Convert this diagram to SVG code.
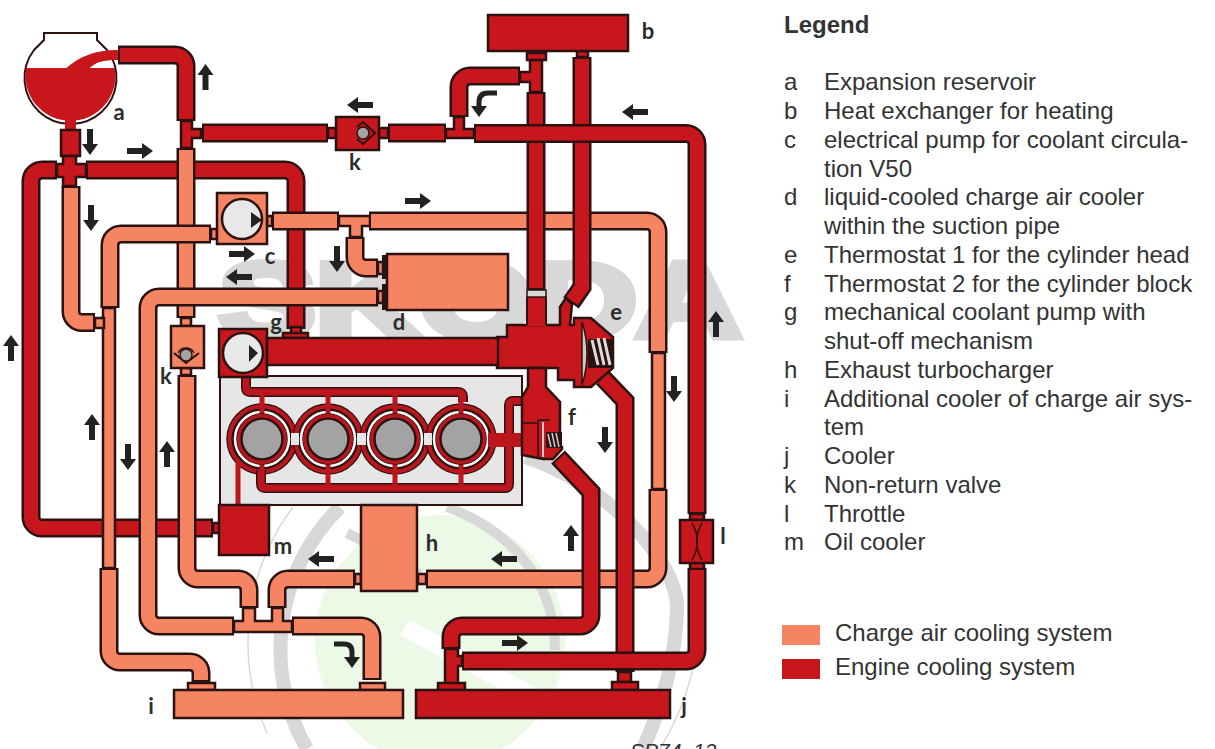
<svg xmlns="http://www.w3.org/2000/svg" width="1215" height="749" viewBox="0 0 1215 749">
<style>
.o{fill:none;stroke:#2b1210;stroke-width:19}
.r{fill:none;stroke:#c8161d;stroke-width:14}
.s{fill:none;stroke:#f58462;stroke-width:14}
.R{fill:#c8161d;stroke:#2b1210;stroke-width:2.5}
.S{fill:#f58462;stroke:#2b1210;stroke-width:2.5}
.W{fill:#e8e8e8;stroke:#2b1210;stroke-width:2.5}
.G{fill:#a3a3a3;stroke:#2b1210;stroke-width:1.5}
.t{fill:#222;stroke:none}
.a{fill:none;stroke:#222;stroke-width:5}
.ah{fill:#222}
.l{font-family:"Lato","Liberation Sans",sans-serif;font-weight:700;font-size:22px;fill:#2b2b2b;text-anchor:middle}
.x{font-family:"Liberation Sans",Arial,sans-serif;font-size:24px;fill:#333}
.m1{fill:none;stroke:#2b1210;stroke-width:10}
.m2{fill:none;stroke:#b9161d;stroke-width:7}
.wm{fill:none;stroke:#d8d8d8}
</style>
<defs>
<g id="au"><path class="ah" d="M-8 -15 L0 -26 L8 -15 Z"/><rect class="ah" x="-3" y="-16" width="6" height="16"/></g>
<g id="ring"><circle r="32.5" fill="none" stroke="#2b1210" stroke-width="6.5"/><circle r="32.5" fill="none" stroke="#b9161d" stroke-width="4"/></g>
<g id="disc"><circle r="29" fill="#fff" stroke="#2b1210" stroke-width="1.5"/></g>
<g id="cyl"><circle r="22.5" fill="#a3a3a3" stroke="#2b1210" stroke-width="6.5"/><circle r="23.3" fill="none" stroke="#b9161d" stroke-width="3.4"/></g>
</defs>
<rect width="1215" height="749" fill="#fff"/>
<g id="watermark">
<circle cx="440" cy="640" r="125" fill="#ecf9e6"/>
<path class="wm" stroke-width="1.5" d="M293 507 A226 226 0 0 0 267 733"/>
<path class="wm" stroke-width="14" d="M340 507 A200 200 0 0 0 307 749"/>
<path class="wm" stroke-width="14" d="M525 457 C600 480 680 560 677 610 C676 660 660 710 643 749"/>
<path class="wm" stroke-width="1.5" d="M699 580 C705 640 690 700 660 749"/>
<path class="wm" stroke-width="10" d="M447 507 C510 530 555 580 555 650"/>
<path class="wm" stroke-width="10" d="M347 533 C370 545 400 560 420 575"/>
<path fill="#fff" d="M410 620 L540 690 L530 705 L400 635 Z"/>
<text x="219" y="337" font-family="Liberation Sans, Arial, sans-serif" font-weight="700" font-size="106" fill="#d8d8d8" stroke="#d8d8d8" stroke-width="8" textLength="522" lengthAdjust="spacingAndGlyphs">SKODA</text>
</g>
<g id="engine">
<rect x="220" y="376" width="302" height="129" fill="#e6e6e6" stroke="#2b1210" stroke-width="2"/>
<use href="#ring" x="262" y="439"/><use href="#ring" x="328" y="439"/><use href="#ring" x="395" y="439"/><use href="#ring" x="461" y="439"/>
<use href="#disc" x="262" y="439"/><use href="#disc" x="328" y="439"/><use href="#disc" x="395" y="439"/><use href="#disc" x="461" y="439"/>
<rect x="291" y="433" width="8" height="12" fill="#e6e6e6"/><rect x="357" y="433" width="9" height="12" fill="#e6e6e6"/><rect x="424" y="433" width="8" height="12" fill="#e6e6e6"/>
<path class="m1" d="M246 378 V388 Q246 392 250 392 H458 Q463 392 463 397 V402"/>
<path class="m2" d="M246 378 V388 Q246 392 250 392 H458 Q463 392 463 397 V402"/>
<path class="m1" d="M261 470 V484 Q261 488 265 488 H505 Q509 488 509 484 V405 Q509 401 513 401 H522"/>
<path class="m2" d="M261 470 V484 Q261 488 265 488 H505 Q509 488 509 484 V405 Q509 401 513 401 H522"/>
<path stroke="#b9161d" stroke-width="5" fill="none" d="M262 393 V414 M328 393 V414 M395 393 V414 M461 393 V414 M262 464 V486 M328 464 V486 M395 464 V486 M461 464 V486 M238 462 V505"/>
<rect x="488" y="433" width="34" height="14" fill="#b9161d"/>
<use href="#cyl" x="262" y="439"/><use href="#cyl" x="328" y="439"/><use href="#cyl" x="395" y="439"/><use href="#cyl" x="461" y="439"/>
</g>
<g id="connectors">
<path class="o" d="M57 170 H42 A11 11 0 0 0 31 181 V517 A11 11 0 0 0 42 528 H213"/>
<path class="r" d="M55 170 H42 A11 11 0 0 0 31 181 V517 A11 11 0 0 0 42 528 H211"/>
<path class="o" d="M86 170 H285 A11 11 0 0 1 296 181 V329"/>
<path class="r" d="M88 170 H285 A11 11 0 0 1 296 181 V327"/>
<rect class="R" x="213" y="523" width="6" height="10" stroke-width="1.5"/>
<rect class="R" x="291" y="327" width="10" height="7" stroke-width="1.5"/>
<rect class="R" x="283" y="333" width="25" height="5"/>
<path class="o" d="M118 55 H175 A11 11 0 0 1 186 66 V121"/>
<path class="r" d="M120 55 H175 A11 11 0 0 1 186 66 V119"/>
<path class="R" d="M181 121 H192 V129 H201 V138 H192 V148 H181 Z"/>
<path class="o" d="M202 133 H328"/><path class="r" d="M204 133 H326"/>
<rect class="R" x="328" y="128" width="8" height="10" stroke-width="1.5"/>
<path class="o" d="M186 148 V318"/><path class="s" d="M186 150 V316"/>
<rect class="S" x="181" y="318" width="10" height="8" stroke-width="1.5"/>
<rect class="S" x="181" y="368" width="10" height="7" stroke-width="1.5"/>
<path class="o" d="M187 375 V568 A11 11 0 0 0 198 579 H238 A11 11 0 0 1 249 590 V608"/>
<path class="s" d="M187 377 V568 A11 11 0 0 0 198 579 H238 A11 11 0 0 1 249 590 V606"/>
<path class="o" d="M71 186 V311.500 A11 11 0 0 0 82 322.500 H95"/>
<path class="s" d="M71 188 V311.500 A11 11 0 0 0 82 322.500 H93"/>
<path class="o" d="M110 308 V245 A11 11 0 0 1 121 234 H211"/>
<path class="s" d="M110 306 V245 A11 11 0 0 1 121 234 H209"/>
<rect class="S" x="211" y="229" width="6" height="10" stroke-width="1.5"/>
<rect class="S" x="103" y="308" width="12" height="260"/>
<path class="S" d="M95 318 H104 V328 H95 Z" stroke="none"/>
<path d="M95 318 H103 M95 328 H103" stroke="#2b1210" stroke-width="2"/>
<path class="o" d="M109 568 V651 A11 11 0 0 0 120 662 H190 A11 11 0 0 1 201 673 V682"/>
<path class="s" d="M109 570 V651 A11 11 0 0 0 120 662 H190 A11 11 0 0 1 201 673 V680"/>
<rect class="S" x="188" y="683" width="27" height="7" stroke-width="2"/>
<path class="o" d="M378 297 H159 A11 11 0 0 0 148 308 V615 A11 11 0 0 0 159 626 H234"/>
<path class="s" d="M376 297 H159 A11 11 0 0 0 148 308 V615 A11 11 0 0 0 159 626 H232"/>
<path class="S" d="M243 608 H255 V621 H272 V608 H283 V621 H292 V632 H234 V621 H243 Z" stroke-width="2"/>
<path class="o" d="M292 626 H361 A11 11 0 0 1 372 637 V680"/>
<path class="s" d="M294 626 H361 A11 11 0 0 1 372 637 V678"/>
<rect class="S" x="360" y="683" width="25" height="7" stroke-width="2"/>
<path class="o" d="M277 608 V590 A11 11 0 0 1 288 579 H355"/>
<path class="s" d="M277 606 V590 A11 11 0 0 1 288 579 H353"/>
<rect class="S" x="355" y="574" width="6" height="10" stroke-width="1.5"/>
<rect class="S" x="267" y="216" width="5" height="10" stroke-width="1.5"/>
<path class="o" d="M272 221 H339"/><path class="s" d="M274 221 H337"/>
<path class="S" d="M339 216 H370 V226 H362 V237 H350 V226 H339 Z" stroke-width="2"/>
<path class="o" d="M355 237 V257 A11 11 0 0 0 366 268 H378"/>
<path class="s" d="M355 239 V257 A11 11 0 0 0 366 268 H376"/>
<rect class="S" x="378" y="262" width="5" height="12" stroke-width="1.5"/>
<rect class="S" x="378" y="291" width="5" height="12" stroke-width="1.5"/>
<rect x="382" y="255" width="6" height="24" fill="#2b1210"/>
<rect x="382" y="284" width="6" height="26" fill="#2b1210"/>
<path class="o" d="M369 221 H647 A11 11 0 0 1 658 232 V353"/>
<path class="s" d="M371 221 H647 A11 11 0 0 1 658 232 V351"/>
<rect class="S" x="652" y="353" width="13" height="136"/>
<path class="o" d="M658 489 V568 A11 11 0 0 1 647 579 H426"/>
<path class="s" d="M658 491 V568 A11 11 0 0 1 647 579 H428"/>
<rect class="S" x="418" y="574" width="8" height="10" stroke-width="1.5"/>
<path class="o" d="M536 92 V290"/><path class="r" d="M536 94 V288"/>
<path class="R" d="M530 60 H542 V92 H530 V82 H520 V72 H530 Z" stroke-width="2"/>
<rect class="R" x="527" y="53" width="19" height="7" stroke-width="2"/>
<path class="o" d="M459 117 V87 A11 11 0 0 1 470 76 H520"/>
<path class="r" d="M459 115 V87 A11 11 0 0 1 470 76 H518"/>
<path class="R" d="M446 129 H454 V117 H464 V129 H474 V138 H446 Z" stroke-width="2"/>
<path class="o" d="M388 133 H446"/><path class="r" d="M390 133 H444"/>
<rect class="R" x="379" y="128" width="9" height="10" stroke-width="1.5"/>
<rect class="R" x="577" y="51" width="11" height="6" stroke-width="1.5"/>
<path class="o" d="M582 57 V287 L571 303"/><path class="r" d="M582 59 V287 L572 301"/>
<path class="o" d="M474 133.500 H686 A11 11 0 0 1 697 144.500 V514"/>
<path class="r" d="M476 133.500 H686 A11 11 0 0 1 697 144.500 V512"/>
<rect class="R" x="690" y="514" width="14" height="6" stroke-width="1.5"/>
<rect class="R" x="690" y="563" width="14" height="6" stroke-width="1.5"/>
<path class="o" d="M603 378 L625 401 V672"/><path class="r" d="M601 376 L625 401 V670"/>
<rect class="R" x="618" y="672" width="13" height="10" stroke-width="1.5"/>
<rect class="R" x="612" y="682" width="26" height="8" stroke-width="2"/>
<path class="o" d="M558 457 L591 492 V615 A11 11 0 0 1 580 626 H462 A11 11 0 0 0 451 637 V649"/>
<path class="r" d="M559.500 458.500 L591 492 V615 A11 11 0 0 1 580 626 H462 A11 11 0 0 0 451 637 V647"/>
<path class="o" d="M697 568 V650 A11 11 0 0 1 686 661 H462"/>
<path class="r" d="M697 570 V650 A11 11 0 0 1 686 661 H464"/>
<path class="R" d="M445 649 H458 V656 H462 V666 H458 V684 H445 Z" stroke-width="2"/>
<rect class="R" x="438" y="683" width="27" height="7" stroke-width="2"/>
</g>
<g id="node-a">
<path d="M44 33 H97 V40 L107 50 A46 46 0 1 1 34 50 L44 40 Z" fill="#fff" stroke="#2b1210" stroke-width="2"/>
<path fill="#c8161d" d="M26.200 68 H114.800 A45 45 0 1 1 26.200 68 Z"/>
<path fill="#c8161d" d="M118 50 C95 50 80 56 65 69 H89 C95 62 103 60 118 60 Z"/>
<rect fill="#c8161d" x="65" y="120" width="11" height="10"/>
<rect class="R" x="61" y="130" width="19" height="26"/>
<path class="R" d="M63 156 H76 V164 H86 V177 H76 V186 H63 V177 H57 V164 H63 Z" stroke-width="2"/>
<text class="l" x="119" y="120">a</text>
</g>
<g id="node-b"><rect class="R" x="488" y="15" width="140" height="36"/><text class="l" x="648" y="39">b</text></g>
<g id="node-c"><rect class="S" x="217" y="193" width="50" height="51"/><circle class="W" cx="242" cy="219" r="20"/><path class="t" d="M251 212 L262 220 L251 228 Z"/><text class="l" x="270" y="264">c</text></g>
<g id="node-d"><rect class="S" x="387" y="254" width="121" height="56"/><text class="l" x="399" y="330">d</text></g>
<g id="node-e">
<path class="R" d="M497 337 H507 V325 H560 V307 L566 298 L572 304 L570 325 H574 V318 H591 L613 337 V368 L591 387 H574 V380 H558 V368 H497 Z"/>
<path fill="#c8161d" d="M527 297 H546 V326 H527 Z"/>
<path d="M527 297 V325 M546 297 V325" stroke="#2b1210" stroke-width="2"/>
<rect x="527" y="290" width="19" height="7" fill="#d8d8d8" stroke="#2b1210" stroke-width="1.500"/>
<rect x="588" y="339" width="25" height="29" fill="#2b1210"/>
<path d="M582 322 Q592 353 582 385 Z" fill="#ccc" stroke="#2b1210" stroke-width="1.500"/>
<path d="M592 340 L598 365 M598 338 L604 365 M604 338 L610 365" stroke="#ddd" stroke-width="3"/>
<text class="l" x="616" y="320">e</text>
</g>
<g id="node-f">
<path class="R" d="M528 368 V387 L522 397 V455 L543 459 H553 L562 449 V447 L560 447 V402 L546 387 V368 Z"/>
<path d="M522 423 H537 M538 420 H550 M538 420 V458" stroke="#2b1210" stroke-width="1.500" fill="none"/>
<rect x="546" y="432" width="16" height="16" fill="#2b1210"/>
<path d="M543 422 V457" stroke="#ccc" stroke-width="2"/>
<path d="M548 434 L551 447 M552 433 L555 447 M556 433 L559 447" stroke="#ccc" stroke-width="1.500"/>
<text class="l" x="572" y="425">f</text>
</g>
<g id="node-g"><rect class="R" x="219" y="329" width="48" height="48"/><path class="R" d="M267 338 H498 V365 H267 Z"/><circle class="W" cx="243" cy="353" r="20"/><path class="t" d="M249 345 L258 353 L249 362 Z"/><text class="l" x="276" y="330">g</text></g>
<g id="node-h"><rect class="S" x="361" y="505" width="56" height="86"/><text class="l" x="432" y="551">h</text></g>
<g id="node-i"><rect class="S" x="174" y="690" width="229" height="28"/><text class="l" x="151" y="714">i</text></g>
<g id="node-j"><rect class="R" x="416" y="690" width="254" height="28"/><text class="l" x="684" y="714">j</text></g>
<g id="node-k1"><rect class="R" x="336" y="117" width="43" height="33"/><path d="M357 127 L363 122 L375 133 L363 144 L357 139" fill="none" stroke="#2b1210" stroke-width="2"/><circle class="G" cx="363" cy="133" r="6"/><text class="l" x="355" y="170">k</text></g>
<g id="node-k2"><rect class="S" x="171" y="326" width="33" height="42"/><path d="M174 353 L186 363 L199 353" fill="none" stroke="#2b1210" stroke-width="2"/><path d="M178 353 A9 9 0 0 1 194 353" fill="none" stroke="#2b1210" stroke-width="1.500"/><circle class="G" cx="186" cy="355" r="6"/><text class="l" x="166" y="384">k</text></g>
<g id="node-l"><rect class="R" x="680" y="520" width="33" height="43"/><path d="M692 523 C699 535 699 548 692 560 M702 523 C695 535 695 548 702 560" fill="none" stroke="#2b1210" stroke-width="1.500"/><text class="l" x="723" y="544">l</text></g>
<g id="node-m"><rect class="R" x="219" y="505" width="50" height="50"/><text class="l" x="283" y="554">m</text></g>
<g id="arrows">
<use href="#au" transform="translate(205.500,90)"/>
<use href="#au" transform="translate(716,337)"/>
<use href="#au" transform="translate(571,551)"/>
<use href="#au" transform="translate(167,467)"/>
<use href="#au" transform="translate(92,440)"/>
<use href="#au" transform="translate(11,361)"/>
<use href="#au" transform="translate(90,129) rotate(180)"/>
<use href="#au" transform="translate(91,205) rotate(180)"/>
<use href="#au" transform="translate(337,246) rotate(180)"/>
<use href="#au" transform="translate(674,376) rotate(180)"/>
<use href="#au" transform="translate(605,427) rotate(180)"/>
<use href="#au" transform="translate(128,444) rotate(180)"/>
<use href="#au" transform="translate(127,151) rotate(90)"/>
<use href="#au" transform="translate(229,254) rotate(90)"/>
<use href="#au" transform="translate(405,201) rotate(90)"/>
<use href="#au" transform="translate(502,643) rotate(90)"/>
<use href="#au" transform="translate(373,105) rotate(-90)"/>
<use href="#au" transform="translate(252,277) rotate(-90)"/>
<use href="#au" transform="translate(648,112) rotate(-90)"/>
<use href="#au" transform="translate(517,559) rotate(-90)"/>
<use href="#au" transform="translate(334,559) rotate(-90)"/>
<path class="a" stroke-width="6" d="M497 93 H488 Q479 93 479 102 V108"/><path class="ah" d="M471 106 H487 L479 117 Z"/>
<path class="a" stroke-width="6" d="M334 644 H344 Q352 644 352 652 V658"/><path class="ah" d="M344 657 H360 L352 668 Z"/>
</g>
<g id="legend">
<text x="784" y="33" font-family="Liberation Sans, Arial, sans-serif" font-weight="700" font-size="24" fill="#333">Legend</text>
<g>
<text class="x" x="784" y="90">a</text><text class="x" x="824" y="90">Expansion reservoir</text>
<text class="x" x="784" y="119">b</text><text class="x" x="824" y="119">Heat exchanger for heating</text>
<text class="x" x="784" y="148">c</text><text class="x" x="824" y="148">electrical pump for coolant circula-</text>
<text class="x" x="824" y="177">tion V50</text>
<text class="x" x="784" y="205">d</text><text class="x" x="824" y="205">liquid-cooled charge air cooler</text>
<text class="x" x="824" y="234">within the suction pipe</text>
<text class="x" x="784" y="263">e</text><text class="x" x="824" y="263">Thermostat 1 for the cylinder head</text>
<text class="x" x="784" y="292">f</text><text class="x" x="824" y="292">Thermostat 2 for the cylinder block</text>
<text class="x" x="784" y="320">g</text><text class="x" x="824" y="320">mechanical coolant pump with</text>
<text class="x" x="824" y="349">shut-off mechanism</text>
<text class="x" x="784" y="378">h</text><text class="x" x="824" y="378">Exhaust turbocharger</text>
<text class="x" x="784" y="407">i</text><text class="x" x="824" y="407">Additional cooler of charge air sys-</text>
<text class="x" x="824" y="435">tem</text>
<text class="x" x="784" y="464">j</text><text class="x" x="824" y="464">Cooler</text>
<text class="x" x="784" y="493">k</text><text class="x" x="824" y="493">Non-return valve</text>
<text class="x" x="784" y="522">l</text><text class="x" x="824" y="522">Throttle</text>
<text class="x" x="784" y="550">m</text><text class="x" x="824" y="550">Oil cooler</text>
</g>
<rect x="782" y="625" width="38" height="20" fill="#f58462"/>
<rect x="782" y="659" width="38" height="20" fill="#c8161d"/>
<text class="x" x="835" y="641">Charge air cooling system</text>
<text class="x" x="835" y="675">Engine cooling system</text>
<text x="630" y="758" font-family="Liberation Sans, Arial, sans-serif" font-style="italic" font-size="21" fill="#333">SP74_12</text>
</g>
</svg>
